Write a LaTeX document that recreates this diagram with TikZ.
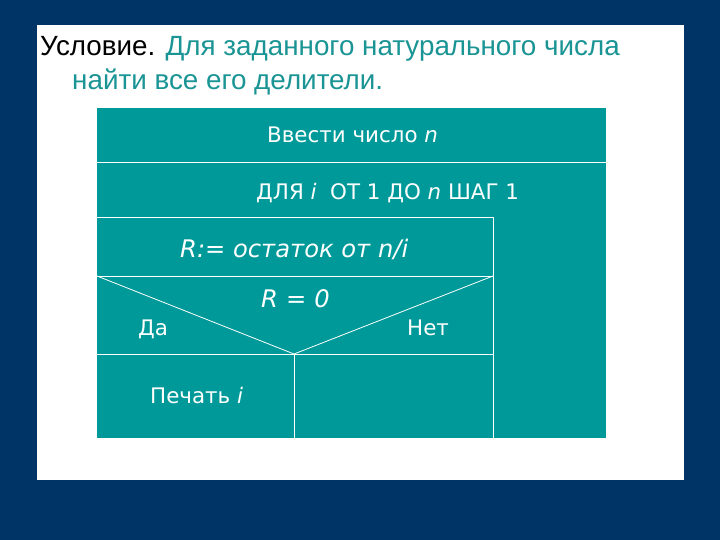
\documentclass[tikz,border=0pt]{standalone}
\usepackage{fontspec}
\setmainfont{Liberation Sans}
\newfontfamily\boxfont{DejaVu Sans}
\definecolor{navy}{HTML}{003366}
\definecolor{tealbox}{HTML}{009999}
\definecolor{tealtext}{HTML}{1A9494}
\tikzset{
  grid/.style={draw=white, line width=0.8pt},
  boxtext/.style={text=white, inner sep=0pt, font=\boxfont\fontsize{21.4}{25}\selectfont},
  bigital/.style={text=white, inner sep=0pt, font=\boxfont\fontsize{24.2}{28}\selectfont\itshape},
  titletext/.style={inner sep=0pt, font=\fontsize{27.8}{32}\selectfont}
}
\begin{document}
\begin{tikzpicture}[x=1pt,y=-1pt]
\useasboundingbox (0,0) rectangle (720,540);
\fill[navy] (0,0) rectangle (720,540);
\fill[white] (37,25) rectangle (684,480);
% title
\node[titletext, anchor=base west] (t1) at (40,56) {Условие. \textcolor{tealtext}{Для заданного натурального числа}};
\node[titletext, anchor=base west, text=tealtext] (t2) at (72,90) {найти все его делители.};
% diagram
\fill[tealbox] (97,108) rectangle (606,438);
\coordinate (a1) at (97,162);
\coordinate (a2) at (606,162);
\coordinate (b1) at (97,217);
\coordinate (b2) at (493,217);
\coordinate (c1) at (97,276);
\coordinate (c2) at (493,276);
\coordinate (m) at (294,354);
\coordinate (d1) at (97,354);
\coordinate (d2) at (493,354);
\coordinate (e1) at (294,438);
\coordinate (e2) at (493,438);
\draw[grid] (a1) -- (a2);
\draw[grid] (b1) -- (b2) -- (e2);
\draw[grid] (c1) -- (c2);
\draw[grid] (c1) -- (m) -- (c2);
\draw[grid] (d1) -- (d2);
\draw[grid] (m) -- (e1);
\node[boxtext, anchor=base west] (n1) at (267,143) {Ввести число \textit{n}};
\node[boxtext, anchor=base west] (n2) at (256,200) {ДЛЯ \textit{i} ~ОТ 1 ДО \textit{n} ШАГ 1};
\node[bigital, anchor=base west] (n3) at (180,257) {R:= остаток от n/i};
\node[bigital, anchor=base west] (n4) at (261,307) {R\,\,=\,\,0};
\node[boxtext, anchor=base west] (n5) at (138,335) {Да};
\node[boxtext, anchor=base west] (n6) at (407,335) {Нет};
\node[boxtext, anchor=base west] (n7) at (150,403) {Печать \textit{i}};
\end{tikzpicture}
\end{document}
